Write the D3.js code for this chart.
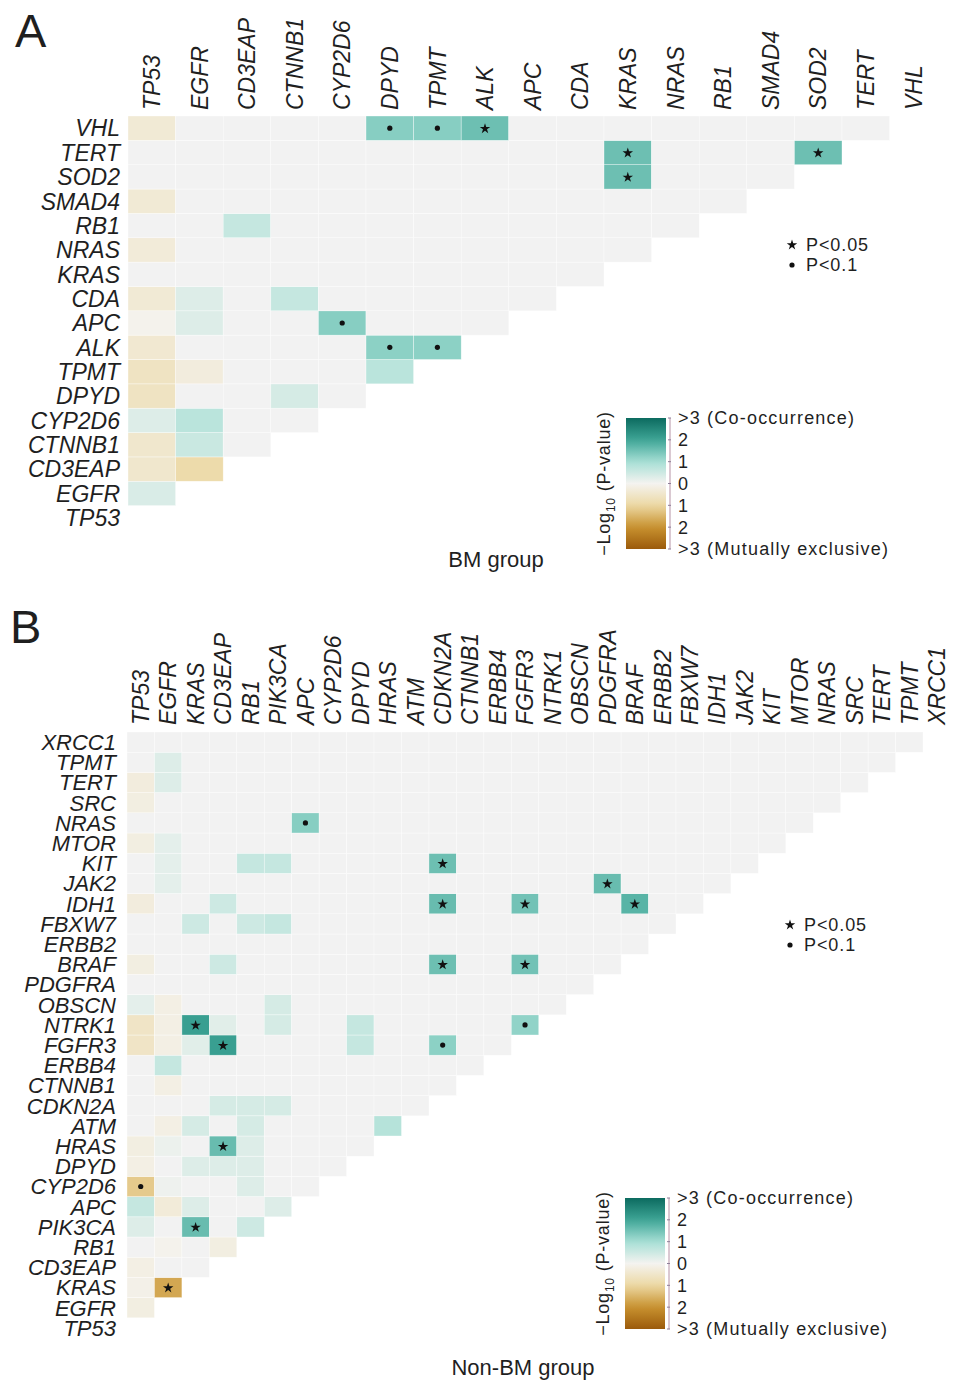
<!DOCTYPE html>
<html><head><meta charset="utf-8">
<script src="https://cdn.jsdelivr.net/npm/d3@7"></script>
<style>
body{margin:0;background:#fff}
svg{display:block}
text{font-family:"Liberation Sans",Arial,Helvetica,sans-serif;fill:#1f1f1f}
</style>
</head><body>
<svg id="chart" width="969" height="1393"></svg>
<script>
// ---------------- DATA ----------------
const genesA = ["TP53","EGFR","CD3EAP","CTNNB1","CYP2D6","DPYD","TPMT","ALK","APC","CDA","KRAS","NRAS","RB1","SMAD4","SOD2","TERT","VHL"];
// [row gene, column gene, signed -log10(P) (+ co-occurrence, - mutually exclusive), significance]
const pairsA = [
  ["VHL","TP53",-0.35,""],["VHL","DPYD",1.3,"dot"],["VHL","TPMT",1.3,"dot"],["VHL","ALK",1.55,"star"],
  ["TERT","KRAS",1.55,"star"],["TERT","SOD2",1.55,"star"],
  ["SOD2","KRAS",1.55,"star"],
  ["SMAD4","TP53",-0.35,""],
  ["RB1","CD3EAP",0.6,""],
  ["NRAS","TP53",-0.3,""],
  ["CDA","TP53",-0.35,""],["CDA","EGFR",0.3,""],["CDA","CTNNB1",0.6,""],
  ["APC","TP53",-0.05,""],["APC","EGFR",0.3,""],["APC","CYP2D6",1.3,"dot"],
  ["ALK","TP53",-0.4,""],["ALK","DPYD",1.25,"dot"],["ALK","TPMT",1.25,"dot"],
  ["TPMT","TP53",-0.6,""],["TPMT","EGFR",-0.25,""],["TPMT","DPYD",0.75,""],
  ["DPYD","TP53",-0.6,""],["DPYD","CTNNB1",0.4,""],
  ["CYP2D6","TP53",0.3,""],["CYP2D6","EGFR",0.75,""],
  ["CTNNB1","TP53",-0.45,""],["CTNNB1","EGFR",0.55,""],
  ["CD3EAP","TP53",-0.45,""],["CD3EAP","EGFR",-0.9,""],
  ["EGFR","TP53",0.35,""]
];

const genesB = ["TP53","EGFR","KRAS","CD3EAP","RB1","PIK3CA","APC","CYP2D6","DPYD","HRAS","ATM","CDKN2A","CTNNB1","ERBB4","FGFR3","NTRK1","OBSCN","PDGFRA","BRAF","ERBB2","FBXW7","IDH1","JAK2","KIT","MTOR","NRAS","SRC","TERT","TPMT","XRCC1"];
const pairsB = [
  ["TPMT","EGFR",0.3,""],
  ["TERT","TP53",-0.25,""],["TERT","EGFR",0.3,""],
  ["SRC","TP53",-0.2,""],
  ["NRAS","APC",1.3,"dot"],
  ["MTOR","TP53",-0.2,""],["MTOR","EGFR",0.2,""],
  ["KIT","EGFR",0.2,""],["KIT","RB1",0.6,""],["KIT","PIK3CA",0.6,""],["KIT","CDKN2A",1.55,"star"],
  ["JAK2","EGFR",0.2,""],["JAK2","PDGFRA",1.6,"star"],
  ["IDH1","TP53",-0.25,""],["IDH1","CD3EAP",0.5,""],["IDH1","CDKN2A",1.6,"star"],["IDH1","FGFR3",1.5,"star"],["IDH1","BRAF",1.75,"star"],
  ["FBXW7","KRAS",0.5,""],["FBXW7","RB1",0.5,""],["FBXW7","PIK3CA",0.6,""],
  ["BRAF","TP53",-0.2,""],["BRAF","CD3EAP",0.5,""],["BRAF","CDKN2A",1.55,"star"],["BRAF","FGFR3",1.5,"star"],
  ["OBSCN","TP53",0.2,""],["OBSCN","EGFR",-0.15,""],["OBSCN","PIK3CA",0.4,""],
  ["NTRK1","TP53",-0.55,""],["NTRK1","EGFR",-0.15,""],["NTRK1","KRAS",2.1,"star"],["NTRK1","CD3EAP",0.25,""],["NTRK1","PIK3CA",0.4,""],["NTRK1","DPYD",0.6,""],["NTRK1","FGFR3",1.2,"dot"],
  ["FGFR3","TP53",-0.55,""],["FGFR3","EGFR",-0.15,""],["FGFR3","KRAS",0.25,""],["FGFR3","CD3EAP",2.1,"star"],["FGFR3","DPYD",0.6,""],["FGFR3","CDKN2A",1.25,"dot"],
  ["ERBB4","EGFR",0.6,""],
  ["CTNNB1","EGFR",-0.15,""],
  ["CDKN2A","CD3EAP",0.4,""],["CDKN2A","RB1",0.4,""],["CDKN2A","PIK3CA",0.4,""],
  ["ATM","EGFR",-0.15,""],["ATM","KRAS",0.4,""],["ATM","RB1",0.4,""],["ATM","HRAS",0.8,""],
  ["HRAS","TP53",-0.2,""],["HRAS","EGFR",0.1,""],["HRAS","CD3EAP",1.6,"star"],["HRAS","RB1",0.3,""],
  ["DPYD","TP53",-0.15,""],["DPYD","KRAS",0.3,""],["DPYD","CD3EAP",0.3,""],["DPYD","RB1",0.3,""],
  ["CYP2D6","TP53",-1.2,"dot"],["CYP2D6","EGFR",0.08,""],["CYP2D6","RB1",0.3,""],
  ["APC","TP53",0.6,""],["APC","EGFR",-0.3,""],["APC","KRAS",0.3,""],["APC","PIK3CA",0.3,""],
  ["PIK3CA","TP53",0.3,""],["PIK3CA","KRAS",1.6,"star"],["PIK3CA","RB1",0.5,""],
  ["RB1","EGFR",-0.05,""],["RB1","CD3EAP",-0.2,""],
  ["CD3EAP","TP53",-0.15,""],
  ["KRAS","TP53",-0.1,""],["KRAS","EGFR",-1.7,"star"],
  ["EGFR","TP53",-0.2,""]
];

const legendTicks = [3,2,1,0,-1,-2,-3];
const legendTickLabels = [">3 (Co-occurrence)","2","1","0","1","2",">3 (Mutually exclusive)"];
const sigLabels = [["star","P<0.05"],["dot","P<0.1"]];
const panelLetters = ["A","B"];
const groupTitles = ["BM group","Non-BM group"];

// ---------------- SCALES / STYLE ----------------
const colorDomain = [-3,-2,-1,0,1,2,3];
const colorRange = ["#9b5a0c","#c8922f","#ecd8a3","#f4f3f0","#a6dfd5","#3ea596","#0c6b5f"];
const color = d3.scaleLinear().domain(colorDomain).range(colorRange).clamp(true);
const emptyColor = "#f2f2f2";

const svg = d3.select("#chart");
const defs = svg.append("defs");

function drawPanel(cfg){
  const {genes, pairs, x0, y0, cw, ch, letter, letterPos, title, titlePos, leg, sigPos, gid} = cfg;
  const n = genes.length;
  const x = d3.scaleBand().domain(genes).range([x0, x0 + n*cw]);
  const y = d3.scaleBand().domain(genes.slice().reverse()).range([y0, y0 + n*ch]);
  const lookup = new Map(pairs.map(p => [p[0]+"|"+p[1], p]));
  const cells = [];
  genes.forEach((rg, i) => {
    for (let j = 0; j < i; j++) {
      const cg = genes[j];
      const p = lookup.get(rg+"|"+cg);
      cells.push({row: rg, col: cg, v: p ? p[2] : 0, sig: p ? p[3] : ""});
    }
  });
  const g = svg.append("g");
  g.selectAll("rect.cell").data(cells).join("rect")
    .attr("class","cell")
    .attr("x", d => x(d.col)).attr("y", d => y(d.row))
    .attr("width", x.bandwidth()).attr("height", y.bandwidth())
    .attr("fill", d => d.v === 0 ? emptyColor : color(d.v))
    .attr("stroke", "#ffffff").attr("stroke-width", 0.6).attr("stroke-opacity", 0.6);

  const cx = d => x(d.col) + x.bandwidth()/2, cy = d => y(d.row) + y.bandwidth()/2;
  g.selectAll("path.star").data(cells.filter(d => d.sig === "star")).join("path")
    .attr("class","star")
    .attr("d", d3.symbol(d3.symbolStar, 34))
    .attr("transform", d => `translate(${cx(d)},${cy(d)+0.5})`)
    .attr("fill", "#111");
  g.selectAll("circle.dot").data(cells.filter(d => d.sig === "dot")).join("circle")
    .attr("class","dot")
    .attr("cx", cx).attr("cy", cy).attr("r", 2.6).attr("fill", "#111");

  // axes
  const top = svg.append("g").attr("transform", `translate(0,${y0})`)
    .call(d3.axisTop(x).tickSize(0).tickPadding(0));
  top.select(".domain").remove();
  top.selectAll("text")
    .attr("transform","rotate(-90)")
    .attr("x", cfg.topPad).attr("y", 0).attr("dy","0.36em")
    .attr("text-anchor","start")
    .style("font-size", cfg.fs + "px").style("font-style","italic")
    .style("font-family",'"Liberation Sans",Arial,sans-serif').attr("fill","#1f1f1f");

  const left = svg.append("g").attr("transform", `translate(${x0},0)`)
    .call(d3.axisLeft(y).tickSize(0).tickPadding(cfg.leftPad));
  left.select(".domain").remove();
  left.selectAll("text")
    .attr("dy","0.36em")
    .style("font-size", cfg.rfs + "px").style("font-style","italic")
    .style("font-family",'"Liberation Sans",Arial,sans-serif').attr("fill","#1f1f1f");

  // panel letter
  svg.append("text").attr("x", letterPos[0]).attr("y", letterPos[1])
    .style("font-size","47px").text(letter);
  // group title
  svg.append("text").attr("x", titlePos[0]).attr("y", titlePos[1])
    .attr("text-anchor","middle").style("font-size","22px").text(title);

  // significance legend
  const sg = svg.append("g").attr("transform", `translate(${sigPos[0]},${sigPos[1]})`);
  sigLabels.forEach((s, k) => {
    const yy = k*20;
    if (s[0] === "star") sg.append("path").attr("d", d3.symbol(d3.symbolStar, 34)).attr("transform", `translate(0,${yy})`).attr("fill","#111");
    else sg.append("circle").attr("cx",0).attr("cy",yy).attr("r",2.6).attr("fill","#111");
    sg.append("text").attr("x", 14).attr("y", yy).attr("dy","0.36em")
      .style("font-size","18px").style("letter-spacing","0.9px").text(s[1]);
  });

  // colour legend
  const gradId = "grad" + gid;
  const grad = defs.append("linearGradient").attr("id", gradId)
    .attr("x1","0").attr("y1","1").attr("x2","0").attr("y2","0");
  d3.range(0, 1.0001, 0.05).forEach(t => {
    grad.append("stop").attr("offset", t).attr("stop-color", color(-3 + 6*t));
  });
  const ly = d3.scaleLinear().domain([-3,3]).range([leg.y + leg.h, leg.y]);
  svg.append("rect").attr("x", leg.x).attr("y", leg.y).attr("width", leg.w).attr("height", leg.h)
    .attr("fill", `url(#${gradId})`);
  const lx = leg.x + leg.w + 4;
  svg.append("line").attr("x1", lx).attr("x2", lx).attr("y1", leg.y).attr("y2", leg.y + leg.h)
    .attr("stroke","#b693a6").attr("stroke-width",1);
  const lg = svg.append("g");
  lg.selectAll("line.tk").data(legendTicks).join("line").attr("class","tk")
    .attr("x1", lx - 2).attr("x2", lx + 1).attr("y1", d => ly(d)).attr("y2", d => ly(d))
    .attr("stroke","#8e7f98").attr("stroke-width",1);
  lg.selectAll("text").data(legendTicks).join("text")
    .attr("x", lx + 8).attr("y", d => ly(d)).attr("dy","0.36em")
    .style("font-size","18px").style("letter-spacing","1.2px")
    .text((d, k) => legendTickLabels[k]);
  const tt = svg.append("text")
    .attr("transform", `translate(${leg.x - 16},${leg.y + leg.h/2}) rotate(-90)`)
    .attr("text-anchor","middle").style("font-size","18px").style("letter-spacing","0.8px");
  tt.append("tspan").text("\u2212Log");
  tt.append("tspan").attr("dy", 5).style("font-size","12px").text("10");
  tt.append("tspan").attr("dy", -5).text(" (P-value)");
}

drawPanel({
  gid: "A", genes: genesA, pairs: pairsA,
  x0: 128, y0: 116, cw: 47.6, ch: 24.35, fs: 23, rfs: 23, topPad: 6, leftPad: 8,
  letter: panelLetters[0], letterPos: [15, 47],
  title: groupTitles[0], titlePos: [496, 567],
  sigPos: [792, 245],
  leg: {x: 626, y: 418, w: 40, h: 131}
});
drawPanel({
  gid: "B", genes: genesB, pairs: pairsB,
  x0: 127, y0: 732, cw: 27.45, ch: 20.2, fs: 23, rfs: 22, topPad: 7, leftPad: 11,
  letter: panelLetters[1], letterPos: [10, 643],
  title: groupTitles[1], titlePos: [523, 1375],
  sigPos: [790, 925],
  leg: {x: 625, y: 1198, w: 40, h: 131}
});
</script>
</body></html>
